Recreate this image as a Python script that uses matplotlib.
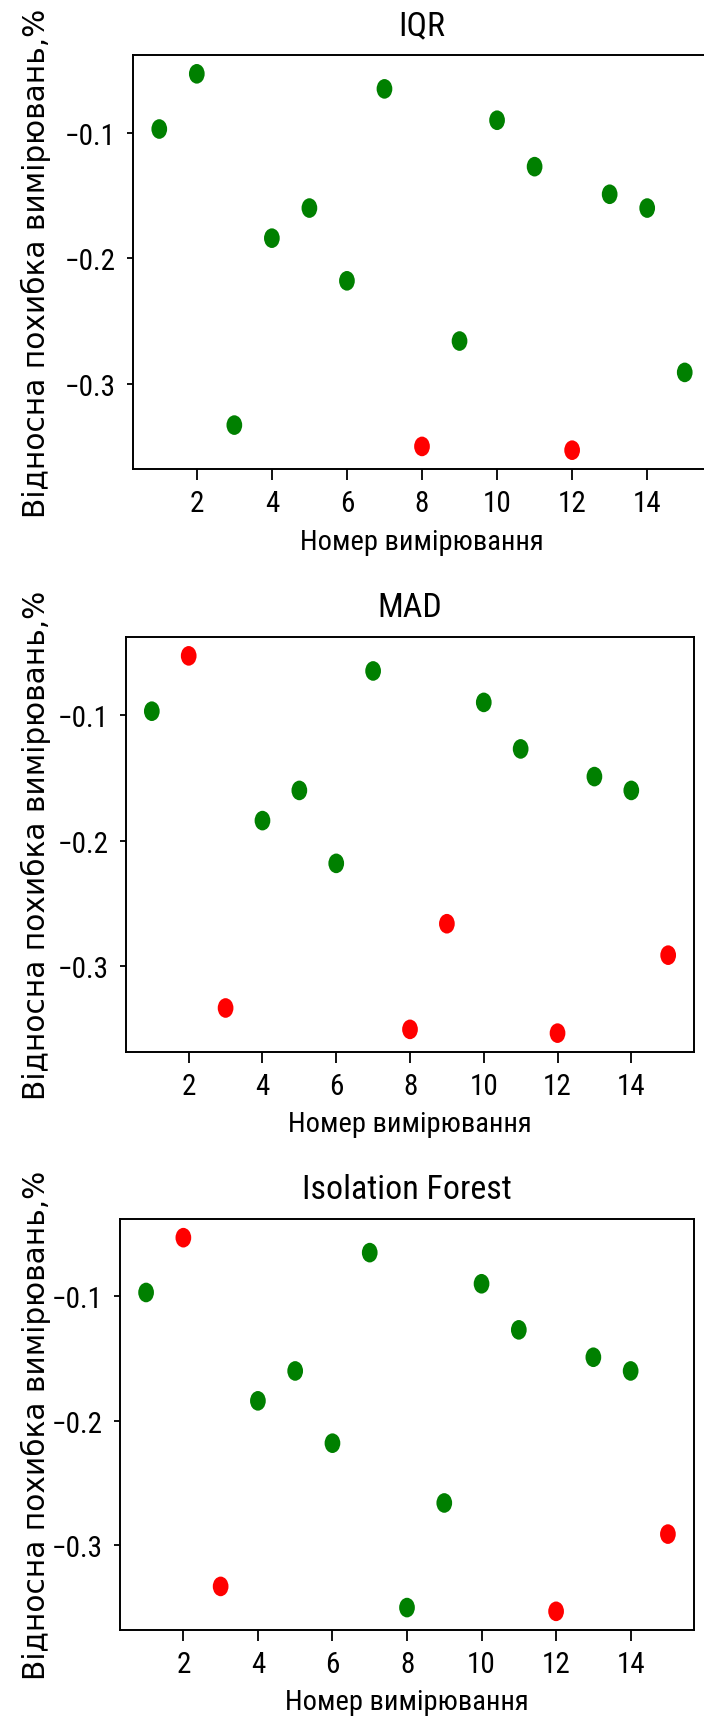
import matplotlib
matplotlib.use("Agg")
import matplotlib.pyplot as plt
from matplotlib import font_manager
from matplotlib.font_manager import FontProperties
from matplotlib.path import Path
from matplotlib.transforms import Affine2D

# відносна похибка для 15 вимірювань
measure_no = list(range(1, 16))
rel_error = [-0.097, -0.053, -0.333, -0.184, -0.160, -0.218, -0.065, -0.350,
             -0.266, -0.090, -0.127, -0.353, -0.149, -0.160, -0.291]

# номери вимірювань, які метод позначив як викиди
outliers_iqr = [8, 12]
outliers_mad = [2, 3, 8, 9, 12, 15]
outliers_if = [2, 3, 12, 15]

titles = ["IQR", "MAD", "Isolation Forest"]
xlabel = "Номер вимірювання"
ylabel = "Відносна похибка вимірювань,%"


def pick_narrow():
    # шукаємо вузький (condensed) шрифт з кирилицею
    order = ["Roboto Condensed", "Liberation Sans Narrow", "DejaVu Sans",
             "Noto Sans", "Open Sans", "Roboto", "Liberation Sans"]
    found = {}
    for f in font_manager.fontManager.ttflist:
        narrow = (str(f.stretch) in ("condensed", "semi-condensed", "extra-condensed")
                  or "Narrow" in f.name or "Condensed" in f.name
                  or "Condensed" in f.fname or "Narrow" in f.fname)
        if not narrow or f.style != "normal":
            continue
        if f.weight not in (400, "normal", "regular", "book"):
            continue
        if "Mono" in f.fname or "Oblique" in f.fname or "Italic" in f.fname:
            continue
        found.setdefault(f.name, f.fname)
    for name in order:
        if name in found:
            return FontProperties(fname=found[name]), True
    return FontProperties(family="DejaVu Sans"), False


narrow_fp, is_narrow = pick_narrow()
tick_size = 21 if is_narrow else 17
title_size = 24.5 if is_narrow else 19
xlab_size = 20.5 if is_narrow else 17

W, H = 704, 1724
fig = plt.figure(figsize=(W / 100, H / 100), dpi=100)

# рамки осей у пікселях: ліво, право, верх, низ
boxes = [(133, 711, 56, 470), (126, 694, 638, 1053), (120, 694, 1220, 1631)]

# еліптичний маркер (точки трохи витягнуті по вертикалі)
ellipse = Path.unit_circle().transformed(Affine2D().scale(0.8, 1.0))


def draw(ax, outliers, title, box):
    l, r, t, b = box
    colors = ["red" if n in outliers else "green" for n in measure_no]
    ax.scatter(measure_no, rel_error, c=colors, s=200, marker=ellipse, linewidths=0)
    ax.set_xticks([2, 4, 6, 8, 10, 12, 14])
    ax.set_yticks([-0.1, -0.2, -0.3])
    ax.tick_params(axis="x", length=8, width=1.3, pad=6.5)
    ax.tick_params(axis="y", length=4.3, width=1.3, pad=8)
    for lab in ax.get_xticklabels() + ax.get_yticklabels():
        lab.set_fontproperties(narrow_fp)
        lab.set_fontsize(tick_size)
    for s in ax.spines.values():
        s.set_linewidth(1.4)
    h = b - t
    w = r - l
    ax.set_title(title, fontproperties=narrow_fp, fontsize=title_size,
                 pad=0, y=1 + 30 / h, va="center")
    ax.set_xlabel(xlabel, fontproperties=narrow_fp, fontsize=xlab_size, va="center")
    ax.xaxis.set_label_coords(0.5, -72 / h)
    ax.set_ylabel(ylabel, family="DejaVu Sans", fontsize=21.3, va="center")
    ax.yaxis.set_label_coords((36 - l) / w, 0.5)


for box, out, title in zip(boxes, [outliers_iqr, outliers_mad, outliers_if], titles):
    l, r, t, b = box
    ax = fig.add_axes([l / W, 1 - b / H, (r - l) / W, (b - t) / H])
    draw(ax, out, title, box)

fig.savefig("out.png", dpi=100)
